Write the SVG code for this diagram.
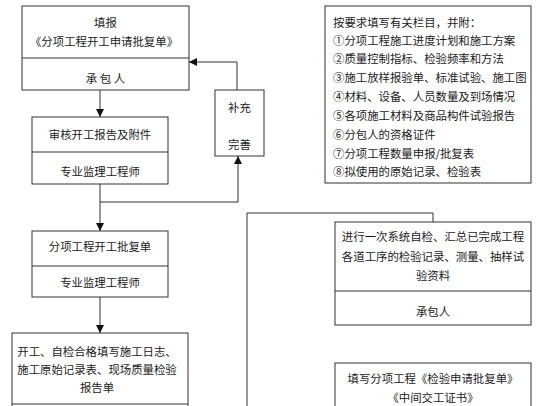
<svg xmlns="http://www.w3.org/2000/svg" width="560" height="406" viewBox="0 0 560 406">
<defs>
<style>
.box{fill:#fff;stroke:#333;stroke-width:1}
.div{stroke:#333;stroke-width:1}
.t{font-family:"Noto Sans CJK SC","Liberation Sans",sans-serif;font-size:11.4px;fill:#1a1a1a;text-anchor:middle;dominant-baseline:central}
.tl{text-anchor:start}
.c{fill:none;stroke:#333;stroke-width:1}
</style>
<marker id="ah" viewBox="0 0 10 10" refX="10" refY="5" markerWidth="8" markerHeight="8" markerUnits="userSpaceOnUse" orient="auto">
<path d="M0,0 L10,5 L0,10 z" fill="#111"/>
</marker>
</defs>
<rect width="560" height="406" fill="#fff"/>
<g id="connectors">
<line class="c" x1="100" y1="90" x2="100" y2="117" marker-end="url(#ah)"/>
<polyline class="c" points="100,184 100,202 238,202 238,156" marker-end="url(#ah)"/>
<polyline class="c" points="237,90 237,62 189,62" marker-end="url(#ah)"/>
<line class="c" x1="100" y1="202" x2="100" y2="231" marker-end="url(#ah)"/>
<line class="c" x1="100" y1="297" x2="100" y2="333" marker-end="url(#ah)"/>
<polyline class="c" points="247,406 247,213 433,213 433,243" marker-end="url(#ah)"/>
</g>
<g id="n1">
<rect class="box" x="22" y="6" width="167" height="84"/>
<line class="div" x1="22" y1="58" x2="189" y2="58"/>
<text class="t" x="105.5" y="22">填报</text>
<text class="t" x="104" y="41">《分项工程开工申请批复单》</text>
<text class="t" x="105.5" y="78">承 包 人</text>
</g>
<g id="n2">
<rect class="box" x="32" y="117" width="136" height="67"/>
<line class="div" x1="32" y1="152" x2="168" y2="152"/>
<text class="t" x="100" y="134">审核开工报告及附件</text>
<text class="t" x="100" y="171">专业监理工程师</text>
</g>
<g id="n3">
<rect class="box" x="215" y="90" width="49" height="66"/>
<text class="t" x="239.5" y="107">补充</text>
<text class="t" x="239.5" y="144">完善</text>
</g>
<g id="n4">
<rect class="box" x="32" y="231" width="136" height="66"/>
<line class="div" x1="32" y1="266" x2="168" y2="266"/>
<text class="t" x="100" y="246">分项工程开工批复单</text>
<text class="t" x="100" y="282">专业监理工程师</text>
</g>
<g id="n5">
<rect class="box" x="12" y="333" width="176" height="80"/>
<line class="div" x1="12" y1="404" x2="188" y2="404"/>
<text class="t" x="97" y="351">开工、自检合格填写施工日志、</text>
<text class="t" x="97" y="369">施工原始记录表、现场质量检验</text>
<text class="t" x="97" y="387">报告单</text>
</g>
<g id="n6">
<rect class="box" x="325" y="6" width="206" height="177"/>
<text class="t tl" x="333" y="22">按要求填写有关栏目，并附：</text>
<text class="t tl" x="333" y="40">①分项工程施工进度计划和施工方案</text>
<text class="t tl" x="333" y="58">②质量控制指标、检验频率和方法</text>
<text class="t tl" x="333" y="77">③施工放样报验单、标准试验、施工图</text>
<text class="t tl" x="333" y="96">④材料、设备、人员数量及到场情况</text>
<text class="t tl" x="333" y="115">⑤各项施工材料及商品构件试验报告</text>
<text class="t tl" x="333" y="134">⑥分包人的资格证件</text>
<text class="t tl" x="333" y="153">⑦分项工程数量申报/批复表</text>
<text class="t tl" x="333" y="171">⑧拟使用的原始记录、检验表</text>
</g>
<g id="n7">
<rect class="box" x="335" y="222" width="196" height="103"/>
<line class="div" x1="335" y1="291" x2="531" y2="291"/>
<text class="t" x="433" y="236">进行一次系统自检、汇总已完成工程</text>
<text class="t" x="433" y="256">各道工序的检验记录、测量、抽样试</text>
<text class="t" x="433" y="275">验资料</text>
<text class="t" x="433" y="311">承包人</text>
</g>
<g id="n8">
<rect class="box" x="335" y="363" width="196" height="60"/>
<text class="t" x="433" y="378">填写分项工程《检验申请批复单》</text>
<text class="t" x="433" y="397">《中间交工证书》</text>
</g>
</svg>
